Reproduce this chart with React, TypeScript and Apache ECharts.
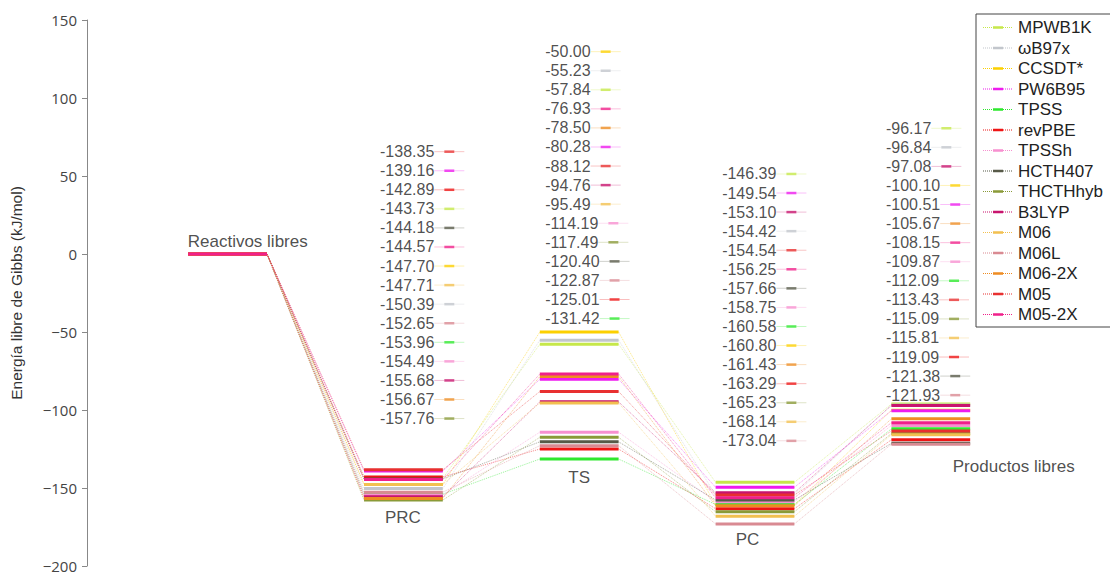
import React, { useEffect, useRef } from 'react';
import * as echarts from 'echarts';

// Methods (legend order) and their colours
const methods = ['MPWB1K', 'ωB97x', 'CCSDT*', 'PW6B95', 'TPSS', 'revPBE', 'TPSSh', 'HCTH407', 'THCTHhyb', 'B3LYP', 'M06', 'M06L', 'M06-2X', 'M05', 'M05-2X'];
const methodColors = ['#c6e84a', '#c2c6cc', '#fcd000', '#ee1cee', '#2ee82e', '#ee1414', '#f790d0', '#575a48', '#8a9a38', '#c8146e', '#f2c050', '#d98a92', '#ee8c22', '#e83030', '#f0208a'];

// Gibbs free energy (kJ/mol) per stage, one value per method
const reactivos = [0, 0, 0, 0, 0, 0, 0, 0, 0, 0, 0, 0, 0, 0, 0];
const prc = [-143.73, -150.39, -147.70, -139.16, -153.96, -142.89, -154.49, -144.18, -157.76, -155.68, -147.71, -152.65, -156.67, -138.35, -144.57];
const ts = [-57.84, -55.23, -50.00, -80.28, -131.42, -125.01, -114.19, -120.40, -117.49, -94.76, -95.49, -122.87, -78.50, -88.12, -76.93];
const pc = [-146.39, -154.42, -160.80, -149.54, -160.58, -163.29, -158.75, -157.66, -165.23, -153.10, -168.14, -173.04, -161.43, -154.54, -156.25];
const productos = [-96.17, -96.84, -100.10, -100.51, -112.09, -119.09, -109.87, -121.38, -115.09, -97.08, -115.81, -121.93, -105.67, -113.43, -108.15];

const stageNames = ['Reactivos libres', 'PRC', 'TS', 'PC', 'Productos libres'];
const yMin = -200;
const yMax = 150;
const yStep = 50;

const SANS = "'Liberation Sans', Arial, sans-serif";
const HALF = 0.224; // half width of each level bar, in stage units

// value-list columns (PRC, TS, PC, products): left edge and first row
const colX = [0.867, 1.807, 2.813, 3.745];
const colTop = [65.6, 129.7, 51.3, 80.6];
const rowStep = 12.22;

// stage caption anchors: [x, y, label position]
const captionAnchors: [number, number, string][] = [
  [-0.227, 7.9, 'right'],
  [0.997, -168.6, 'inside'],
  [2.0, -143.0, 'inside'],
  [2.957, -183.3, 'inside'],
  [4.125, -135.9, 'right'],
];

function rgba(hex: string, a: number) {
  const n = parseInt(hex.slice(1), 16);
  return `rgba(${(n >> 16) & 255},${(n >> 8) & 255},${n & 255},${a})`;
}

// legend icon: faint dotted line with a short solid bar in the middle
function legendIconPath() {
  let d = 'path://M0,0h0.01v0.01h-0.01z M29.99,13.99h0.01v0.01h-0.01z ';
  for (let x = 0; x < 30; x += 2) {
    if (x >= 10 && x < 20) continue;
    d += `M${x},6.6h1v0.8h-1z `;
  }
  d += 'M10,5.8h10v2.4h-10z';
  return d;
}

export default function App() {
  const ref = useRef<HTMLDivElement>(null);

  useEffect(() => {
    document.body.style.margin = '0';
    if (!ref.current) return;
    const chart = echarts.init(ref.current, undefined, { renderer: 'svg' });

    const stages = [reactivos, prc, ts, pc, productos];
    const series: any[] = [];

    methods.forEach((name, k) => {
      const color = methodColors[k];
      const vals = stages.map((s) => s[k]);
      const links: any[] = [];
      for (let i = 0; i < vals.length - 1; i++) {
        links.push([i + HALF, vals[i]], [i + 1 - HALF, vals[i + 1]], [i + 1, '-']);
      }
      const bars: any[] = [];
      vals.forEach((v, i) => {
        bars.push([i - HALF, v], [i + HALF, v], [i + 0.5, '-']);
      });
      series.push({
        type: 'line', name, data: links, symbol: 'none', z: 1, silent: true, color,
        itemStyle: { color },
        lineStyle: { color, width: 1, type: 'dotted', opacity: 0.5 },
      });
      series.push({
        type: 'line', name, data: bars, symbol: 'none', z: 2, silent: true, color,
        itemStyle: { color },
        lineStyle: { color, width: 3 },
      });
    });

    const rich: any = { t: { fontSize: 16, fontFamily: SANS, color: '#222' } };
    methodColors.forEach((c, k) => {
      rich['f' + k] = { width: 10, height: 1, backgroundColor: rgba(c, 0.35) };
      rich['m' + k] = { width: 10, height: 2.5, backgroundColor: c };
    });

    for (let s = 1; s < stages.length; s++) {
      const vals = stages[s];
      const order = methods.map((_, k) => k).sort((a, b) => vals[b] - vals[a]);
      series.push({
        type: 'scatter', silent: true, z: 3, symbolSize: 0,
        data: order.map((k, r) => ({
          value: [colX[s - 1], colTop[s - 1] - r * rowStep],
          label: { formatter: `{t|${vals[k].toFixed(2)}}{f${k}|}{m${k}|}{f${k}|}` },
        })),
        label: { show: true, position: 'right', distance: 0, rich },
      });
    }

    series.push({
      type: 'scatter', silent: true, z: 3, symbolSize: 0,
      data: stageNames.map((n, i) => ({
        value: [captionAnchors[i][0], captionAnchors[i][1]],
        label: { position: captionAnchors[i][2], formatter: n },
      })),
      label: { show: true, distance: 0, fontSize: 17, fontFamily: SANS, color: '#222' },
    });

    const icon = legendIconPath();

    chart.setOption({
      animation: false,
      grid: { left: 83, right: 21, top: 20, bottom: 9, containLabel: false },
      xAxis: { type: 'value', min: -0.8, max: 4.9, show: false },
      yAxis: {
        type: 'value', min: yMin, max: yMax, interval: yStep,
        axisLine: { show: true, onZero: false, lineStyle: { color: '#888' } },
        axisTick: { show: true, length: 5, lineStyle: { color: '#888' } },
        splitLine: { show: false },
        axisLabel: {
          margin: 10, color: '#444', fontSize: 15, fontFamily: "'Open Sans', sans-serif",
          formatter: (v: number) => (v < 0 ? '\u2212' + Math.abs(v) : String(v)),
        },
        name: 'Energía libre de Gibbs (kJ/mol)',
        nameLocation: 'middle',
        nameGap: 63,
        nameTextStyle: { fontSize: 15.5, fontFamily: SANS, color: '#333' },
      },
      legend: {
        orient: 'vertical', left: 976, top: 14,
        padding: [5, 8, 4, 7],
        borderColor: '#444', borderWidth: 1, backgroundColor: '#fff',
        itemWidth: 30, itemHeight: 14, itemGap: 3.5,
        textStyle: { fontSize: 17, fontFamily: SANS, color: '#222' },
        data: methods.map((name) => ({ name, icon })),
        selectedMode: false,
        z: 10,
      },
      series,
    });

    return () => chart.dispose();
  }, []);

  return <div ref={ref} style={{ width: 1110, height: 575 }} />;
}
